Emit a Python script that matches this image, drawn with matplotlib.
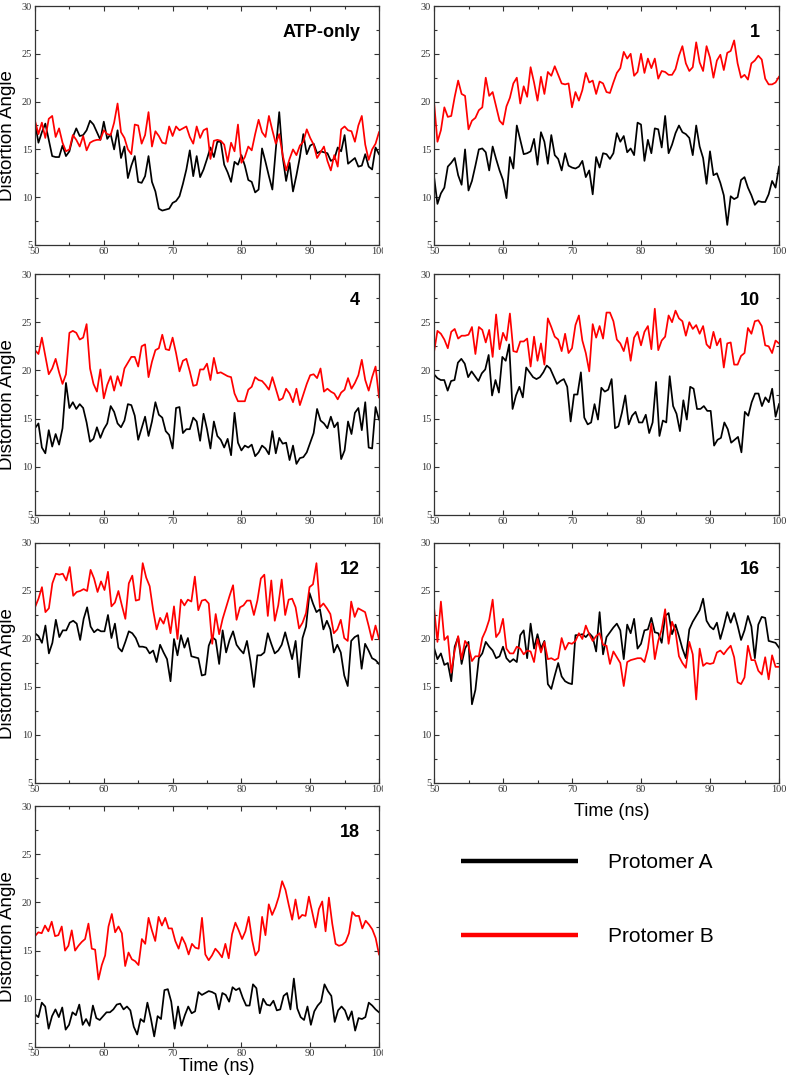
import numpy as np
import matplotlib
matplotlib.use("Agg")
import matplotlib.pyplot as plt
from matplotlib.lines import Line2D
from matplotlib.transforms import Bbox, TransformedBbox

# ---------------- data (distortion angle, degrees) ----------------
panel_labels = ["ATP-only", "1", "4", "10", "12", "16", "18"]
x_ticks = [50, 60, 70, 80, 90, 100]
y_ticks = [5, 10, 15, 20, 25, 30]

atp_A = [17.8, 15.7, 16.8, 17.7, 16.0, 14.3, 14.2, 14.2, 15.4, 14.3, 14.8, 16.3, 17.2, 16.4, 16.5, 17.0, 18.0, 17.6, 16.8, 16.0,
         17.9, 16.1, 16.6, 15.0, 17.0, 14.1, 15.3, 12.0, 13.3, 14.3, 11.6, 11.5, 12.2, 14.3, 11.6, 10.6, 8.8, 8.6, 8.7, 8.8,
         9.4, 9.6, 10.1, 11.4, 12.9, 14.9, 12.2, 14.3, 12.1, 12.9, 14.0, 15.2, 14.2, 15.8, 15.8, 13.4, 12.6, 11.6, 13.7, 13.4,
         14.4, 13.3, 11.8, 11.6, 10.5, 10.8, 15.1, 13.7, 12.2, 10.8, 15.0, 18.9, 14.2, 11.7, 13.6, 10.6, 12.3, 14.2, 16.6, 14.5,
         15.4, 15.6, 14.6, 14.8, 14.7, 14.6, 13.8, 14.0, 15.2, 14.8, 16.5, 13.5, 13.8, 14.1, 13.2, 13.3, 14.5, 13.2, 12.9, 15.2, 14.5]
atp_B = [18.0, 16.6, 17.8, 16.2, 18.2, 18.5, 16.3, 17.2, 15.7, 14.8, 15.0, 16.5, 16.0, 15.3, 16.4, 14.9, 15.7, 15.9, 16.0, 16.0,
         17.0, 16.6, 16.5, 17.8, 19.8, 16.8, 16.2, 15.0, 14.5, 17.6, 17.5, 15.6, 16.5, 18.9, 15.3, 16.9, 16.4, 15.7, 15.6, 17.4,
         16.4, 17.4, 17.0, 17.2, 17.4, 16.3, 15.6, 17.4, 16.2, 17.0, 17.2, 14.0, 15.9, 16.0, 15.9, 15.5, 13.7, 15.7, 14.8, 17.6,
         13.6, 14.2, 15.3, 14.9, 16.6, 18.1, 16.8, 16.3, 18.5, 17.0, 15.6, 16.6, 14.4, 12.8, 14.0, 15.0, 14.4, 15.4, 15.8, 17.1,
         16.2, 15.5, 14.1, 14.7, 15.3, 13.8, 12.8, 14.4, 13.2, 17.1, 17.4, 17.0, 16.9, 15.8, 17.5, 18.5, 15.5, 13.9, 15.0, 15.6, 16.8]

c1_A = [12.2, 9.3, 10.4, 11.0, 13.2, 13.6, 14.1, 12.3, 11.3, 15.0, 10.7, 11.7, 13.3, 15.0, 15.1, 14.7, 12.8, 15.3, 14.0, 12.8,
        11.8, 9.9, 14.2, 13.0, 17.5, 16.0, 14.5, 14.6, 14.8, 16.1, 13.4, 16.8, 15.8, 13.5, 16.5, 14.4, 14.0, 12.8, 14.6, 13.3,
        13.1, 13.0, 13.2, 13.8, 12.1, 12.8, 10.3, 14.2, 13.1, 14.6, 14.5, 14.0, 14.6, 16.7, 15.8, 16.4, 14.7, 15.1, 14.4, 17.8,
        17.6, 13.8, 16.0, 14.6, 17.2, 17.1, 15.2, 18.5, 14.6, 15.5, 16.7, 17.5, 16.8, 16.6, 16.2, 14.4, 17.5, 15.3, 14.1, 11.4,
        14.8, 12.3, 12.5, 11.5, 10.2, 7.1, 10.1, 9.8, 10.0, 11.8, 12.1, 11.0, 10.2, 9.2, 9.6, 9.5, 9.5, 10.3, 11.7, 11.0, 13.2]
c1_B = [20.0, 15.8, 17.0, 19.4, 18.4, 18.5, 20.5, 22.2, 20.8, 20.6, 17.1, 18.0, 18.3, 19.1, 19.4, 22.5, 20.6, 21.0, 19.5, 18.0,
        17.6, 19.5, 20.4, 21.9, 22.5, 19.8, 21.6, 20.5, 23.6, 22.0, 20.1, 22.6, 20.8, 23.1, 22.7, 23.7, 22.8, 21.9, 21.8, 21.9,
        19.4, 21.0, 20.1, 21.2, 23.0, 22.0, 22.2, 20.8, 22.1, 21.9, 21.0, 20.9, 22.0, 23.0, 23.5, 25.2, 24.5, 25.0, 22.7, 23.1,
        25.0, 23.0, 24.5, 23.5, 24.5, 22.4, 23.2, 23.1, 22.8, 22.8, 23.4, 24.8, 25.8, 24.0, 23.2, 23.6, 26.2, 24.1, 23.2, 25.8,
        24.6, 22.5, 24.3, 24.9, 23.3, 25.1, 25.3, 26.4, 24.0, 22.5, 22.8, 22.3, 24.0, 24.3, 24.8, 24.4, 22.4, 21.8, 21.8, 22.0, 22.6]

c4_A = [14.0, 14.5, 12.0, 11.4, 13.8, 12.1, 13.4, 12.3, 14.0, 18.7, 16.1, 16.7, 16.0, 16.5, 16.1, 14.6, 12.6, 12.9, 14.1, 13.0,
        13.9, 14.5, 16.3, 15.7, 14.5, 14.1, 14.8, 16.5, 16.4, 15.3, 12.8, 14.0, 15.2, 13.2, 14.7, 16.7, 15.4, 15.1, 13.7, 13.3,
        11.9, 16.1, 16.2, 13.5, 13.9, 13.9, 15.1, 14.7, 12.7, 15.5, 13.9, 11.9, 14.7, 13.2, 12.8, 12.0, 12.9, 11.2, 15.6, 12.5,
        11.7, 12.2, 12.0, 12.3, 11.1, 11.5, 12.2, 11.9, 11.3, 13.7, 11.4, 13.0, 12.4, 12.5, 10.7, 12.2, 10.3, 10.9, 11.0, 11.5,
        12.5, 13.5, 16.0, 14.8, 14.5, 14.0, 15.2, 14.1, 14.6, 10.8, 11.7, 14.7, 13.4, 15.6, 16.1, 13.8, 16.7, 12.0, 11.9, 16.2, 14.9]
c4_B = [22.1, 21.7, 23.4, 21.5, 19.6, 20.2, 21.2, 19.8, 18.6, 19.6, 23.9, 24.1, 23.9, 23.2, 23.4, 24.8, 20.2, 18.6, 17.8, 20.1,
        17.1, 18.5, 19.4, 17.9, 19.4, 18.4, 20.2, 20.8, 21.4, 21.4, 20.4, 22.5, 22.7, 19.3, 20.9, 22.1, 22.3, 23.7, 22.2, 22.1,
        23.4, 21.8, 19.9, 21.0, 21.2, 19.9, 18.4, 18.5, 20.1, 20.1, 20.7, 19.0, 21.3, 19.7, 19.8, 19.6, 19.4, 19.3, 17.6, 16.8,
        16.8, 16.8, 18.0, 18.3, 19.3, 19.0, 18.9, 18.5, 18.0, 19.3, 18.1, 16.9, 17.1, 18.1, 17.6, 16.7, 18.1, 16.4, 17.5, 18.6,
        19.5, 19.6, 19.2, 20.2, 17.8, 18.1, 17.8, 17.6, 17.0, 17.7, 18.0, 19.2, 18.1, 18.7, 19.5, 21.1, 19.0, 17.9, 19.3, 20.4, 17.2]

c10_A = [19.6, 19.2, 19.0, 19.0, 17.9, 18.9, 19.0, 20.8, 21.2, 20.7, 19.3, 19.9, 19.4, 18.9, 19.7, 20.1, 21.6, 17.4, 19.0, 17.7,
         21.4, 21.0, 22.7, 16.0, 17.4, 18.3, 17.2, 20.3, 19.8, 19.3, 19.1, 19.3, 19.8, 20.5, 20.2, 19.4, 18.6, 18.9, 19.1, 18.3,
         14.7, 17.5, 17.5, 19.8, 15.1, 14.4, 14.6, 16.5, 14.9, 18.2, 17.8, 18.0, 19.1, 14.0, 14.2, 15.6, 17.4, 14.4, 15.3, 15.7,
         14.6, 14.6, 15.4, 13.5, 14.6, 18.8, 13.2, 14.8, 14.6, 19.4, 16.3, 15.5, 13.7, 16.9, 14.9, 18.3, 18.1, 16.0, 16.0, 16.3,
         15.8, 15.8, 12.2, 12.8, 13.0, 14.6, 13.9, 12.5, 12.8, 13.1, 11.5, 15.7, 15.3, 16.7, 17.6, 17.6, 16.3, 17.2, 16.7, 18.1,
         15.2, 16.5]
c10_B = [21.9, 24.1, 23.8, 23.2, 22.3, 24.0, 24.3, 23.3, 23.6, 23.6, 23.7, 24.5, 21.7, 24.5, 24.2, 22.9, 24.2, 21.4, 25.8, 22.2,
         23.9, 23.1, 25.9, 22.0, 21.9, 23.0, 23.0, 23.3, 20.4, 23.5, 21.0, 22.8, 20.6, 25.4, 24.5, 23.5, 23.2, 22.0, 23.8, 21.8,
         22.3, 24.7, 25.7, 23.1, 21.8, 19.9, 24.8, 23.4, 24.6, 23.3, 26.0, 26.0, 25.1, 23.2, 22.8, 22.0, 23.4, 21.0, 23.4, 24.0,
         22.6, 24.0, 24.6, 22.2, 26.4, 22.1, 23.1, 23.5, 25.7, 25.0, 26.2, 25.4, 25.1, 23.6, 25.0, 24.3, 24.7, 23.8, 24.6, 22.7,
         22.3, 24.0, 22.6, 23.3, 20.3, 22.8, 22.9, 20.6, 20.6, 21.5, 21.8, 24.4, 23.8, 25.1, 25.2, 24.6, 22.6, 22.5, 21.8, 23.1, 22.8]

c12_A = [20.6, 20.3, 19.6, 21.4, 18.5, 19.6, 22.0, 20.2, 20.9, 20.9, 21.7, 21.9, 21.6, 19.9, 22.1, 23.3, 21.3, 20.7, 21.0, 20.8,
         20.8, 22.5, 20.1, 21.6, 19.1, 18.7, 19.7, 20.8, 20.6, 20.1, 19.2, 19.2, 19.1, 18.5, 18.8, 17.6, 19.4, 18.6, 17.9, 15.6,
         20.0, 18.3, 20.4, 19.1, 20.1, 18.2, 18.1, 18.0, 16.2, 16.3, 19.3, 20.2, 19.9, 17.4, 20.9, 18.6, 19.9, 20.8, 19.4, 18.9,
         18.5, 19.8, 17.7, 15.0, 18.3, 18.3, 18.6, 20.6, 19.5, 18.5, 18.8, 19.4, 20.7, 19.3, 17.9, 19.8, 16.0, 20.1, 21.3, 24.8,
         23.7, 22.8, 23.1, 21.0, 21.9, 21.0, 18.6, 19.4, 18.6, 16.2, 15.1, 19.8, 20.2, 20.4, 16.9, 19.5, 18.8, 18.0, 17.8, 17.4]
c12_B = [23.3, 24.2, 25.4, 22.8, 23.2, 25.8, 26.8, 26.7, 26.8, 26.1, 27.5, 24.5, 24.9, 25.0, 25.2, 25.0, 27.2, 26.3, 24.9, 26.0,
         25.1, 27.0, 23.4, 23.8, 25.0, 23.5, 22.1, 25.8, 26.6, 24.0, 24.1, 27.9, 26.4, 25.5, 23.0, 21.0, 22.2, 21.6, 22.7, 20.6,
         23.4, 20.0, 24.1, 23.5, 24.1, 23.9, 26.5, 23.0, 24.0, 24.1, 23.7, 19.5, 22.6, 20.5, 22.1, 23.3, 24.5, 25.6, 22.0, 23.3,
         23.5, 24.0, 24.0, 22.5, 24.0, 26.3, 26.7, 22.4, 26.1, 21.9, 23.5, 26.2, 22.5, 24.1, 24.2, 23.3, 21.1, 21.7, 22.7, 25.4,
         25.7, 27.9, 23.3, 23.7, 23.2, 22.6, 20.6, 21.0, 22.0, 20.1, 19.8, 23.9, 22.3, 23.2, 23.0, 22.8, 21.4, 19.9, 21.4, 20.0]

c16_A = [19.1, 17.9, 18.5, 17.3, 17.5, 15.6, 19.2, 20.2, 17.4, 19.0, 19.7, 13.2, 14.7, 18.0, 18.5, 19.7, 19.2, 18.8, 18.0, 18.2,
         19.2, 18.0, 17.6, 17.9, 17.6, 20.4, 20.9, 18.0, 21.6, 19.0, 20.5, 19.0, 19.8, 15.3, 14.8, 16.2, 17.5, 16.1, 15.6, 15.4,
         15.3, 20.4, 20.4, 20.5, 20.2, 20.6, 20.2, 18.7, 22.8, 18.4, 20.2, 20.7, 21.2, 21.6, 20.9, 17.9, 21.5, 20.6, 22.1, 19.0,
         19.5, 20.9, 21.0, 22.2, 20.7, 20.6, 19.6, 22.4, 22.7, 20.5, 21.5, 20.3, 19.0, 18.0, 21.0, 21.8, 22.4, 23.0, 24.2, 21.9,
         21.3, 21.0, 21.7, 20.0, 21.3, 22.8, 21.7, 22.7, 21.4, 19.9, 20.9, 22.4, 21.3, 18.0, 21.5, 22.3, 22.2, 19.8, 19.7, 19.6, 19.1]
c16_B = [23.3, 19.7, 23.9, 19.9, 20.3, 16.5, 18.8, 20.3, 17.9, 19.8, 19.3, 17.7, 18.2, 18.2, 20.1, 20.9, 22.0, 24.1, 20.2, 20.7,
         22.1, 19.0, 18.5, 18.5, 19.2, 19.0, 18.4, 18.8, 18.7, 17.6, 20.0, 18.6, 19.7, 17.9, 18.0, 17.8, 18.0, 20.1, 18.9, 19.6,
         19.5, 19.8, 20.6, 20.0, 21.4, 20.5, 19.8, 20.3, 20.6, 19.4, 19.3, 17.4, 18.7, 18.1, 17.5, 15.1, 17.6, 17.8, 17.9, 18.0,
         18.0, 17.6, 19.0, 21.6, 17.9, 19.8, 21.0, 23.1, 19.5, 21.8, 20.8, 18.2, 17.5, 17.0, 19.7, 18.4, 13.7, 19.0, 17.2, 17.5,
         17.4, 17.5, 18.6, 18.8, 18.4, 18.9, 19.3, 18.1, 15.5, 15.3, 16.0, 19.3, 17.8, 17.8, 16.7, 16.3, 18.1, 15.8, 18.3, 17.1, 17.1]

c18_A = [8.4, 8.1, 9.6, 9.2, 6.9, 8.2, 8.9, 8.1, 9.1, 6.8, 7.3, 8.6, 8.3, 9.4, 7.3, 7.9, 7.2, 9.3, 8.0, 7.8,
         8.2, 8.6, 8.6, 8.9, 9.4, 9.5, 8.9, 9.2, 8.8, 7.1, 6.3, 7.9, 7.6, 9.6, 8.0, 6.1, 8.2, 7.9, 10.9, 11.0,
         9.7, 6.9, 9.2, 7.2, 8.3, 9.2, 8.5, 8.7, 10.7, 10.4, 10.6, 10.8, 10.7, 10.5, 8.9, 10.6, 10.4, 9.7, 11.2, 10.9,
         11.1, 10.1, 9.3, 9.3, 11.5, 11.1, 8.5, 10.0, 9.4, 9.3, 9.8, 8.8, 8.9, 10.3, 10.6, 8.9, 12.1, 9.0, 8.1, 7.8,
         9.2, 7.3, 8.7, 9.3, 9.7, 11.5, 10.8, 10.3, 7.6, 8.8, 9.2, 8.8, 7.8, 8.7, 6.7, 8.0, 7.9, 8.1, 9.6, 9.3,
         8.9, 8.6]
c18_B = [16.5, 16.9, 16.8, 17.6, 17.0, 18.0, 16.5, 16.6, 17.5, 15.0, 15.5, 17.1, 15.0, 15.5, 15.9, 16.2, 17.8, 15.2, 15.1, 12.0,
         13.5, 14.5, 17.5, 18.8, 16.9, 17.5, 16.8, 13.4, 14.8, 14.1, 13.9, 13.5, 16.2, 15.7, 18.4, 17.1, 16.0, 18.5, 17.6, 18.4,
         17.3, 17.3, 16.0, 15.2, 16.4, 15.7, 14.6, 15.7, 15.3, 15.2, 18.4, 14.6, 14.0, 14.5, 15.2, 14.8, 14.3, 15.7, 14.2, 16.7,
         17.9, 17.1, 16.2, 17.0, 18.5, 16.1, 14.5, 15.0, 18.5, 16.6, 19.8, 18.7, 19.5, 20.6, 22.2, 21.3, 19.7, 18.2, 20.3, 18.3,
         18.7, 18.6, 20.6, 19.0, 17.4, 19.3, 20.1, 17.0, 20.5, 17.8, 15.7, 15.5, 15.6, 15.9, 16.8, 19.0, 18.6, 18.6, 17.3, 18.1,
         17.7, 17.2, 16.3, 14.6]

series_A = [atp_A, c1_A, c4_A, c10_A, c12_A, c16_A, c18_A]
series_B = [atp_B, c1_B, c4_B, c10_B, c12_B, c16_B, c18_B]
legend_labels = ["Protomer A", "Protomer B"]

# ---------------- layout ----------------
W, H = 787, 1080
fig = plt.figure(figsize=(W / 100, H / 100), dpi=100)
fig.patch.set_facecolor("white")

SANS = ["Liberation Sans", "DejaVu Sans"]
SERIF = ["Liberation Serif", "DejaVu Serif"]

col_x = [(35, 379), (434, 779)]
row_y = [(6, 245), (274, 515), (543, 783), (806, 1047)]
positions = [(0, 0), (1, 0), (0, 1), (1, 1), (0, 2), (1, 2), (0, 3)]

clip_left = TransformedBbox(Bbox.from_extents(0, 0, 383 / W, 1), fig.transFigure)

for k, (c, r) in enumerate(positions):
    x0, x1 = col_x[c]
    y0, y1 = row_y[r]
    ax = fig.add_axes([x0 / W, 1 - y1 / H, (x1 - x0) / W, (y1 - y0) / H])
    a = np.asarray(series_A[k])
    b = np.asarray(series_B[k])
    ax.plot(np.linspace(50, 100, len(a)), a, color="black", lw=1.25)
    ax.plot(np.linspace(50, 100, len(b)), b, color="#ff0000", lw=1.25)
    ax.set_xlim(50, 100)
    ax.set_ylim(5, 30)
    ax.set_xticks(x_ticks)
    ax.set_yticks(y_ticks)
    ax.set_xticks(np.arange(55, 100, 10), minor=True)
    ax.set_yticks(np.arange(7.5, 30, 5), minor=True)
    ax.tick_params(which="both", direction="in", top=True, right=True, width=0.8, colors="#333333")
    ax.tick_params(which="major", length=3.5)
    ax.tick_params(which="minor", length=2)
    ax.tick_params(axis="x", pad=1.5, labelsize=7.5)
    ax.tick_params(axis="y", pad=2.0, labelsize=7.5)
    for lbl in ax.get_xticklabels() + ax.get_yticklabels():
        lbl.set_family(SERIF)
        lbl.set_color("#333333")
    for s in ax.spines.values():
        s.set_linewidth(0.9)
        s.set_color("#333333")
    ax.text(0.945, 0.89, panel_labels[k], transform=ax.transAxes, ha="right", va="center",
            fontsize=13, fontweight="bold", family=SANS)
    if c == 0:
        ax.set_ylabel("Distortion Angle", fontsize=13.5, family=SANS)
        ax.yaxis.set_label_coords(-0.055, 0.457)
        for lbl in ax.get_xticklabels():
            lbl.set_clip_box(clip_left)
            lbl.set_clip_on(True)
    if (c, r) == (1, 2):
        ax.set_xlabel("Time (ns)", fontsize=13, family=SANS)
        ax.xaxis.set_label_coords(0.516, -0.083)
    if (c, r) == (0, 3):
        ax.set_xlabel("Time (ns)", fontsize=13, family=SANS)
        ax.xaxis.set_label_coords(0.529, -0.046)

# legend
handles = [Line2D([], [], color="black", lw=3.2, solid_capstyle="butt"),
           Line2D([], [], color="#ff0000", lw=3.2, solid_capstyle="butt")]
fig.legend(handles, legend_labels, loc="upper left",
           bbox_to_anchor=(461 / W, 1 - 853 / H), frameon=False,
           prop={"family": SANS, "size": 15}, handlelength=5.6, handletextpad=1.45,
           labelspacing=2.64, borderpad=0, borderaxespad=0)

fig.savefig("out.png", dpi=100, facecolor="white")
